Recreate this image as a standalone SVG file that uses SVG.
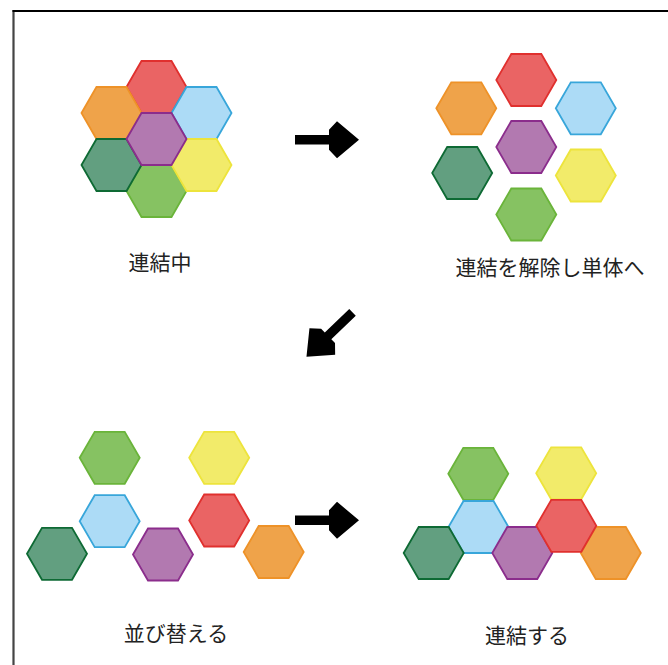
<svg xmlns="http://www.w3.org/2000/svg" xmlns:xlink="http://www.w3.org/1999/xlink" width="668" height="665" viewBox="0 0 668 665">
<style>
.h{stroke-width:1.8;stroke-linejoin:miter}
.red{fill:#EA6464;stroke:#E0302E}
.org{fill:#EFA34A;stroke:#EE9228}
.blu{fill:#ACDBF6;stroke:#38A6DA}
.pur{fill:#B279B0;stroke:#8B2D8C}
.dgr{fill:#629F80;stroke:#0E6A34}
.yel{fill:#F2EB6A;stroke:#EDE43C}
.lgr{fill:#86C262;stroke:#6AB43A}
.lbl{font-family:"Noto Sans CJK JP","Noto Sans",sans-serif;font-size:21px;fill:#222;text-anchor:middle}
.arr{fill:#000}
</style>
<defs>
<polygon id="hex" points="-30,0 -15,-26 15,-26 30,0 15,26 -15,26"/>
<polygon id="arrow" points="-32,-4.7 2,-4.7 2,-10 10,-18.5 32,0 10,18.5 2,10 2,4.7 -32,4.7"/>
</defs>
<rect width="668" height="665" fill="#fff"/>
<g id="frame">
<line x1="13.5" y1="10" x2="13.5" y2="665" stroke="#444" stroke-width="2.2"/>
<line x1="12.5" y1="11" x2="668" y2="11" stroke="#000" stroke-width="2"/>
</g>
<g id="stage1">
<use xlink:href="#hex" class="h red" x="156.5" y="87"/>
<use xlink:href="#hex" class="h org" x="111.5" y="113"/>
<use xlink:href="#hex" class="h blu" x="201.5" y="113"/>
<use xlink:href="#hex" class="h lgr" x="156.5" y="191"/>
<use xlink:href="#hex" class="h dgr" x="111.5" y="165"/>
<use xlink:href="#hex" class="h yel" x="201.5" y="165"/>
<use xlink:href="#hex" class="h pur" x="156.5" y="139"/>
<text class="lbl" x="160" y="270">連結中</text>
</g>
<g id="stage2">
<use xlink:href="#hex" class="h red" x="526.3" y="80"/>
<use xlink:href="#hex" class="h org" x="466.3" y="108.3"/>
<use xlink:href="#hex" class="h blu" x="585.8" y="108.3"/>
<use xlink:href="#hex" class="h pur" x="526.3" y="147"/>
<use xlink:href="#hex" class="h dgr" x="462.2" y="173"/>
<use xlink:href="#hex" class="h yel" x="585.8" y="175.5"/>
<use xlink:href="#hex" class="h lgr" x="526.3" y="214.5"/>
<text class="lbl" x="550" y="274.5">連結を解除し単体へ</text>
</g>
<g id="stage3">
<use xlink:href="#hex" class="h lgr" x="109.7" y="457.8"/>
<use xlink:href="#hex" class="h yel" x="219.2" y="457.8"/>
<use xlink:href="#hex" class="h blu" x="109.7" y="521.2"/>
<use xlink:href="#hex" class="h red" x="219.2" y="520.5"/>
<use xlink:href="#hex" class="h dgr" x="57" y="553.8"/>
<use xlink:href="#hex" class="h pur" x="163" y="554.5"/>
<use xlink:href="#hex" class="h org" x="273.7" y="552"/>
<text class="lbl" x="176" y="641">並び替える</text>
</g>
<g id="stage4">
<use xlink:href="#hex" class="h lgr" x="478.3" y="473.8"/>
<use xlink:href="#hex" class="h yel" x="566.2" y="473.3"/>
<use xlink:href="#hex" class="h blu" x="478.5" y="527"/>
<use xlink:href="#hex" class="h org" x="610.8" y="553"/>
<use xlink:href="#hex" class="h pur" x="522.3" y="553"/>
<use xlink:href="#hex" class="h red" x="566.3" y="525.8"/>
<use xlink:href="#hex" class="h dgr" x="433.7" y="553"/>
<text class="lbl" x="527" y="643">連結する</text>
</g>
<g id="connectors">
<use xlink:href="#arrow" class="arr" transform="translate(327,139.8)"/>
<use xlink:href="#arrow" class="arr" transform="translate(329.5,334.5) rotate(136)"/>
<use xlink:href="#arrow" class="arr" transform="translate(327,520.3)"/>
</g>
</svg>
